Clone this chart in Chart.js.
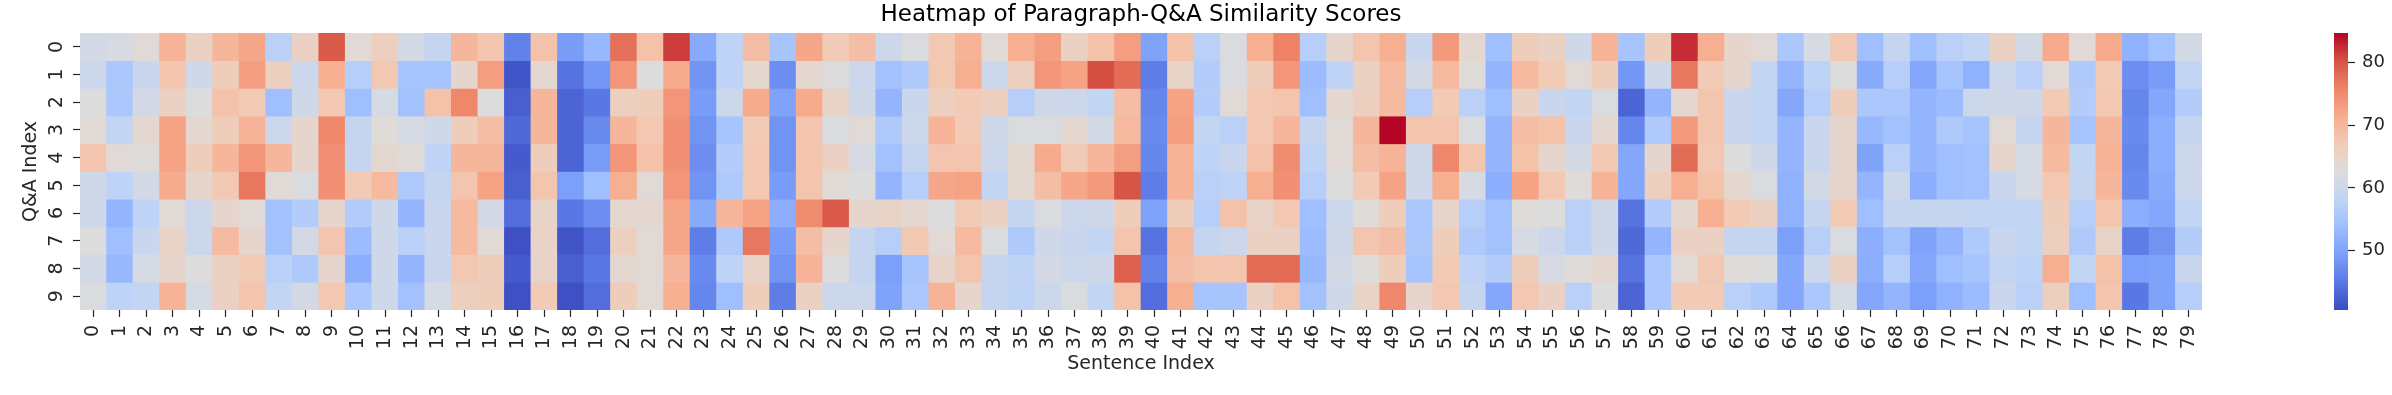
<!DOCTYPE html>
<html>
<head>
<meta charset="utf-8">
<title>Heatmap of Paragraph-Q&amp;A Similarity Scores</title>
<script src="https://cdn.jsdelivr.net/npm/chart.js@4/dist/chart.umd.min.js"></script>
<style>
    html, body { margin: 0; padding: 0; background: #fff; }
    #wrap { position: relative; width: 2392px; height: 395px; overflow: hidden; }
    #wrap div { position: absolute; top: 0; height: 395px; }
    #mapBox { left: 0; width: 2320px; }
    #barBox { left: 2320px; width: 72px; }
</style>
</head>
<body>
<div id="wrap">
    <div id="mapBox"><canvas id="heatmap"></canvas></div>
    <div id="barBox"><canvas id="colorbar"></canvas></div>
</div>
<script>
const sentenceLabels = Array.from({ length: 80 }, (_, i) => String(i));
const qaLabels = ['0', '1', '2', '3', '4', '5', '6', '7', '8', '9'];
const colorbarTicks = [50, 60, 70, 80];
const scoreMin = 40.56;
const scoreMax = 84.67;

// One line per sentence (column), ten Q&A rows read top to bottom
const scoresBySentence = [
    [61, 60, 62.5, 63.5, 68, 60.5, 60.5, 62.5, 61, 62],
    [61.5, 55.5, 55.5, 58.5, 63.5, 58, 52.5, 54, 53, 58],
    [63.5, 59.5, 61, 64, 63, 61, 58, 59.5, 61.5, 58.5],
    [70.5, 68, 65.5, 72.5, 72.5, 71.5, 63.5, 65, 64.5, 70.5],
    [65.5, 60.5, 62.5, 64, 66.5, 64.5, 60, 60, 62.5, 61.5],
    [70, 66.5, 68.5, 66.5, 70, 67.5, 64.5, 69.5, 65.5, 65.5],
    [72, 73, 67, 70.5, 74, 77, 63.5, 64.5, 67, 68],
    [57.5, 66, 54, 60, 70, 63.5, 54.5, 54.5, 57.5, 58.5],
    [65.5, 60, 60.5, 64.5, 64.5, 62, 56.5, 61, 56, 61],
    [79.5, 71, 67.5, 75.5, 74.5, 74.5, 64.5, 68, 64.5, 67.5],
    [63.5, 57, 54, 59, 59, 67, 56.5, 53.5, 51.5, 55.5],
    [66, 67.5, 61.5, 63, 64, 69.5, 60.5, 60.5, 60.5, 60.5],
    [61, 55, 54.5, 61.5, 63, 56, 52.5, 57.5, 52.5, 54.5],
    [59, 55, 68.5, 60.5, 58, 59, 59.5, 59.5, 59.5, 61.5],
    [70, 64.5, 75.5, 66.5, 70, 68, 69.5, 69.5, 67.5, 66],
    [68, 73, 62.5, 69, 70, 72.5, 61, 63.5, 66.5, 66.5],
    [46, 41.5, 42.5, 43.5, 42, 42.5, 44, 41, 42, 41],
    [68.5, 64, 70, 70, 66.5, 68, 65, 65, 65, 67],
    [49, 44.5, 43, 43, 43, 49.5, 45, 41.5, 42.5, 41],
    [53, 48.5, 45, 47, 49, 54, 47.5, 44, 45, 44],
    [77.5, 74, 66, 70, 74, 71, 64, 66, 64, 66.5],
    [68.5, 62.5, 66.5, 67.5, 68.5, 63.5, 64, 63.5, 63.5, 63.5],
    [81.5, 71.5, 74, 74.5, 74.5, 74, 72, 72, 70, 71],
    [51, 48, 49, 48, 47.5, 48, 51, 45.5, 47, 46.5],
    [58, 58, 60, 55, 56.5, 56, 70, 56, 58, 54],
    [69, 64, 71.5, 67, 67.5, 67.5, 72.5, 77, 65, 66.5],
    [55, 47.5, 50, 48, 48, 49, 51.5, 49, 48, 45.5],
    [72, 64, 71.5, 68, 68, 68, 75, 69, 70.5, 65.5],
    [67, 62.5, 65, 62, 65.5, 63.5, 79.5, 64.5, 62.5, 60],
    [69, 60, 60.5, 63.5, 61.5, 62.5, 64.5, 59, 59, 60],
    [60, 54.5, 52.5, 56, 54.5, 52.5, 65, 57, 49.5, 50],
    [62, 56, 59.5, 60, 59, 57, 64, 67.5, 55, 55.5],
    [67.5, 67.5, 66, 70.5, 68, 72, 62.5, 63.5, 65, 70.5],
    [70.5, 71, 67, 67, 68, 72.5, 67, 69.5, 68, 64.5],
    [63.5, 60, 66, 60.5, 60, 58.5, 65.5, 62, 59, 59],
    [71, 66, 57, 62, 64, 64, 59, 56, 58, 58],
    [73, 74, 60.5, 62, 71.5, 69, 62, 60.5, 61, 60],
    [65.5, 72.5, 60, 64, 67, 72, 60, 59.5, 60, 62],
    [68.5, 80.5, 58.5, 61, 70, 73.5, 60.5, 58.5, 60.5, 58.5],
    [73, 78, 69, 69.5, 73, 80, 66.5, 68, 79, 68.5],
    [50, 45.5, 46.5, 47, 46.5, 45.5, 50, 44.5, 46, 44],
    [68.5, 65, 72.5, 73, 70.5, 70.5, 66.5, 69.5, 69, 71],
    [57.5, 56.5, 56.5, 58.5, 58, 57.5, 57, 59, 68, 55],
    [62, 62, 63.5, 57.5, 59.5, 58, 68.5, 60, 68, 55],
    [71, 66.5, 67.5, 67.5, 68.5, 71, 65, 65.5, 78, 65.5],
    [76, 74, 68, 70, 75, 74.5, 67.5, 65.5, 78, 68.5],
    [57, 53.5, 54, 59, 58, 57, 54, 53.5, 53, 54.5],
    [64.5, 58, 64, 63.5, 63.5, 62.5, 60, 60.5, 61, 60.5],
    [68, 65.5, 66, 70, 69, 67, 63, 68, 63, 65],
    [71, 69.5, 69.5, 84.6, 70.5, 72.5, 66.5, 69, 66.5, 75.5],
    [59.5, 61, 57, 68, 60.5, 60.5, 55.5, 55.5, 55, 64.5],
    [73.5, 69.5, 67, 68, 75.5, 71, 64.5, 66.5, 67, 67.5],
    [64, 63, 57.5, 62, 68, 61.5, 57, 56, 58, 59],
    [54, 52.5, 54, 52.5, 52.5, 51.5, 54.5, 54.5, 56.5, 50.5],
    [66.5, 69.5, 65.5, 69, 68.5, 72.5, 63, 61.5, 66.5, 67.5],
    [65.5, 67, 59.5, 68.5, 64.5, 67.5, 62.5, 60, 61.5, 65.5],
    [60.5, 63.5, 58.5, 59.5, 61, 63, 57.5, 57.5, 63, 57.5],
    [70.5, 66.5, 62, 64, 67.5, 70.5, 60.5, 60.5, 64, 62.5],
    [55, 48.5, 43, 46.5, 50.5, 50.5, 44.5, 43.5, 44.5, 43],
    [66.5, 60.5, 52.5, 56, 64.5, 66, 56.5, 52.5, 55.5, 55.5],
    [82.5, 77, 64, 73.5, 78, 71, 64, 65.5, 63.5, 67],
    [71, 67, 68, 68, 67.5, 68.5, 71, 65.5, 67.5, 67],
    [64.5, 64.5, 59.5, 59.5, 62.5, 64, 67, 59, 63, 57.5],
    [63.5, 58.5, 58.5, 58.5, 60.5, 62, 65.5, 59, 62.5, 56],
    [55.5, 52.5, 50.5, 52.5, 52.5, 52, 52, 49.5, 50.5, 50.5],
    [61.5, 58, 57, 59.5, 59.5, 61, 59, 57, 60, 55.5],
    [67.5, 62.5, 66.5, 64.5, 64.5, 64.5, 67, 62, 65.5, 61.5],
    [54, 51, 55.5, 53, 50, 52.5, 54, 51.5, 51.5, 50.5],
    [59, 57, 55.5, 54.5, 57.5, 60, 59, 54.5, 57, 52.5],
    [54, 50.5, 52.5, 52.5, 52.5, 51.5, 59, 50, 50.5, 49.5],
    [57.5, 55, 53.5, 56, 54, 54, 59, 52.5, 54, 52],
    [58.5, 52, 60, 55, 54.5, 54.5, 58.5, 56, 55, 53.5],
    [65.5, 60, 60.5, 63.5, 64.5, 59.5, 58.5, 59.5, 58.5, 59.5],
    [61, 57.5, 60.5, 59, 61.5, 61.5, 58.5, 58.5, 58, 57.5],
    [71.5, 63.5, 67, 70, 69.5, 67.5, 66.5, 66, 71, 66],
    [63.5, 56, 56.5, 55, 58.5, 59, 57, 56, 58.5, 54],
    [71.5, 67, 67.5, 70, 70.5, 70, 68, 65, 68.5, 68],
    [52, 47.5, 46.5, 47, 46.5, 47, 51.5, 45.5, 49.5, 45],
    [54.5, 49, 50.5, 51.5, 51.5, 51, 50.5, 48, 50, 50],
    [61, 58.5, 56.5, 59, 60, 60, 58.5, 56.5, 59.5, 57]
];

// coolwarm colour map, eleven even stops
const coolwarm = [
    [59, 76, 192], [90, 120, 228], [123, 159, 249], [158, 190, 255],
    [192, 212, 245], [221, 220, 220], [242, 203, 183], [247, 172, 142],
    [238, 132, 104], [214, 82, 68], [180, 4, 38]
];

function corDoValor(valor) {
    const t = Math.min(1, Math.max(0, (valor - scoreMin) / (scoreMax - scoreMin))) * 10;
    const i = Math.min(9, Math.floor(t));
    const f = t - i;
    const c = coolwarm[i].map((v, k) => Math.round(v + (coolwarm[i + 1][k] - v) * f));
    return `rgb(${c[0]},${c[1]},${c[2]})`;
}

const fonte = 'DejaVu Sans';
const corTexto = '#262626';

// Chart.js anchors rotated labels on a vertical axis by their end, so they are drawn here centred on the tick
const rotuloY = {
    id: 'rotuloY',
    afterDraw(chart) {
        const ctx = chart.ctx;
        const y = chart.scales.y;
        ctx.save();
        ctx.fillStyle = corTexto;
        ctx.font = `19px "${fonte}"`;
        ctx.textAlign = 'center';
        ctx.textBaseline = 'middle';
        qaLabels.forEach((label, i) => {
            ctx.save();
            ctx.translate(57, y.getPixelForValue(i + 0.5));
            ctx.rotate(-Math.PI / 2);
            ctx.fillText(label, 0, 0);
            ctx.restore();
        });
        ctx.restore();
    }
};

new Chart(document.getElementById('heatmap').getContext('2d'), {
    type: 'bar',
    data: {
        labels: sentenceLabels,
        datasets: qaLabels.map((label, linha) => ({
            label: label,
            data: sentenceLabels.map(() => [linha, linha + 1]),
            backgroundColor: scoresBySentence.map(col => corDoValor(col[linha])),
            borderWidth: 0,
            barPercentage: 1,
            categoryPercentage: 1,
            grouped: false
        }))
    },
    options: {
        responsive: true,
        maintainAspectRatio: false,
        animation: false,
        layout: { padding: { top: 1, right: 118, bottom: 0, left: 0 } },
        plugins: {
            legend: { display: false },
            tooltip: { enabled: false },
            title: {
                display: true,
                fullSize: false,
                text: 'Heatmap of Paragraph-Q&A Similarity Scores',
                color: '#000',
                font: { family: fonte, size: 23, weight: 'normal' },
                padding: { top: 0, bottom: 4.4 }
            }
        },
        scales: {
            x: {
                grid: { offset: false, drawOnChartArea: false, tickLength: 7, tickColor: corTexto, tickWidth: 1.2 },
                border: { display: false },
                ticks: {
                    autoSkip: false,
                    minRotation: 90,
                    maxRotation: 90,
                    padding: 8,
                    color: corTexto,
                    font: { family: fonte, size: 19 }
                },
                title: {
                    display: true,
                    text: 'Sentence Index',
                    color: corTexto,
                    font: { family: fonte, size: 19 },
                    padding: { top: 0, bottom: 20 }
                },
                afterFit(scale) { scale.height = 85; }
            },
            y: {
                type: 'linear',
                reverse: true,
                min: 0,
                max: 10,
                afterBuildTicks(scale) { scale.ticks = qaLabels.map((_, i) => ({ value: i + 0.5 })); },
                grid: { drawOnChartArea: false, tickLength: 7, tickColor: corTexto, tickWidth: 1.2 },
                border: { display: false },
                ticks: { display: false },
                title: {
                    display: true,
                    text: 'Q&A Index',
                    color: corTexto,
                    font: { family: fonte, size: 19 },
                    padding: { top: 20, bottom: 0 }
                },
                afterFit(scale) { scale.width = 80; }
            }
        }
    },
    plugins: [rotuloY]
});

new Chart(document.getElementById('colorbar').getContext('2d'), {
    type: 'bar',
    data: {
        labels: [''],
        datasets: [{
            data: [[scoreMin, scoreMax]],
            borderWidth: 0,
            barPercentage: 1,
            categoryPercentage: 1,
            backgroundColor(context) {
                const area = context.chart.chartArea;
                if (!area) return coolwarm[5];
                const grad = context.chart.ctx.createLinearGradient(0, area.bottom, 0, area.top);
                coolwarm.forEach((c, i) => grad.addColorStop(i / 10, `rgb(${c[0]},${c[1]},${c[2]})`));
                return grad;
            }
        }]
    },
    options: {
        responsive: true,
        maintainAspectRatio: false,
        animation: false,
        layout: { padding: { top: 33, right: 0, bottom: 85, left: 14 } },
        plugins: { legend: { display: false }, tooltip: { enabled: false }, title: { display: false } },
        scales: {
            x: { display: false },
            y: {
                position: 'right',
                min: scoreMin,
                max: scoreMax,
                afterBuildTicks(scale) { scale.ticks = colorbarTicks.map(v => ({ value: v })); },
                grid: { drawOnChartArea: false, tickLength: 7, tickColor: corTexto, tickWidth: 1.2 },
                border: { display: false },
                ticks: { padding: 7, color: corTexto, font: { family: fonte, size: 18 } },
                afterFit(scale) { scale.width = 44; }
            }
        }
    }
});
</script>
</body>
</html>
